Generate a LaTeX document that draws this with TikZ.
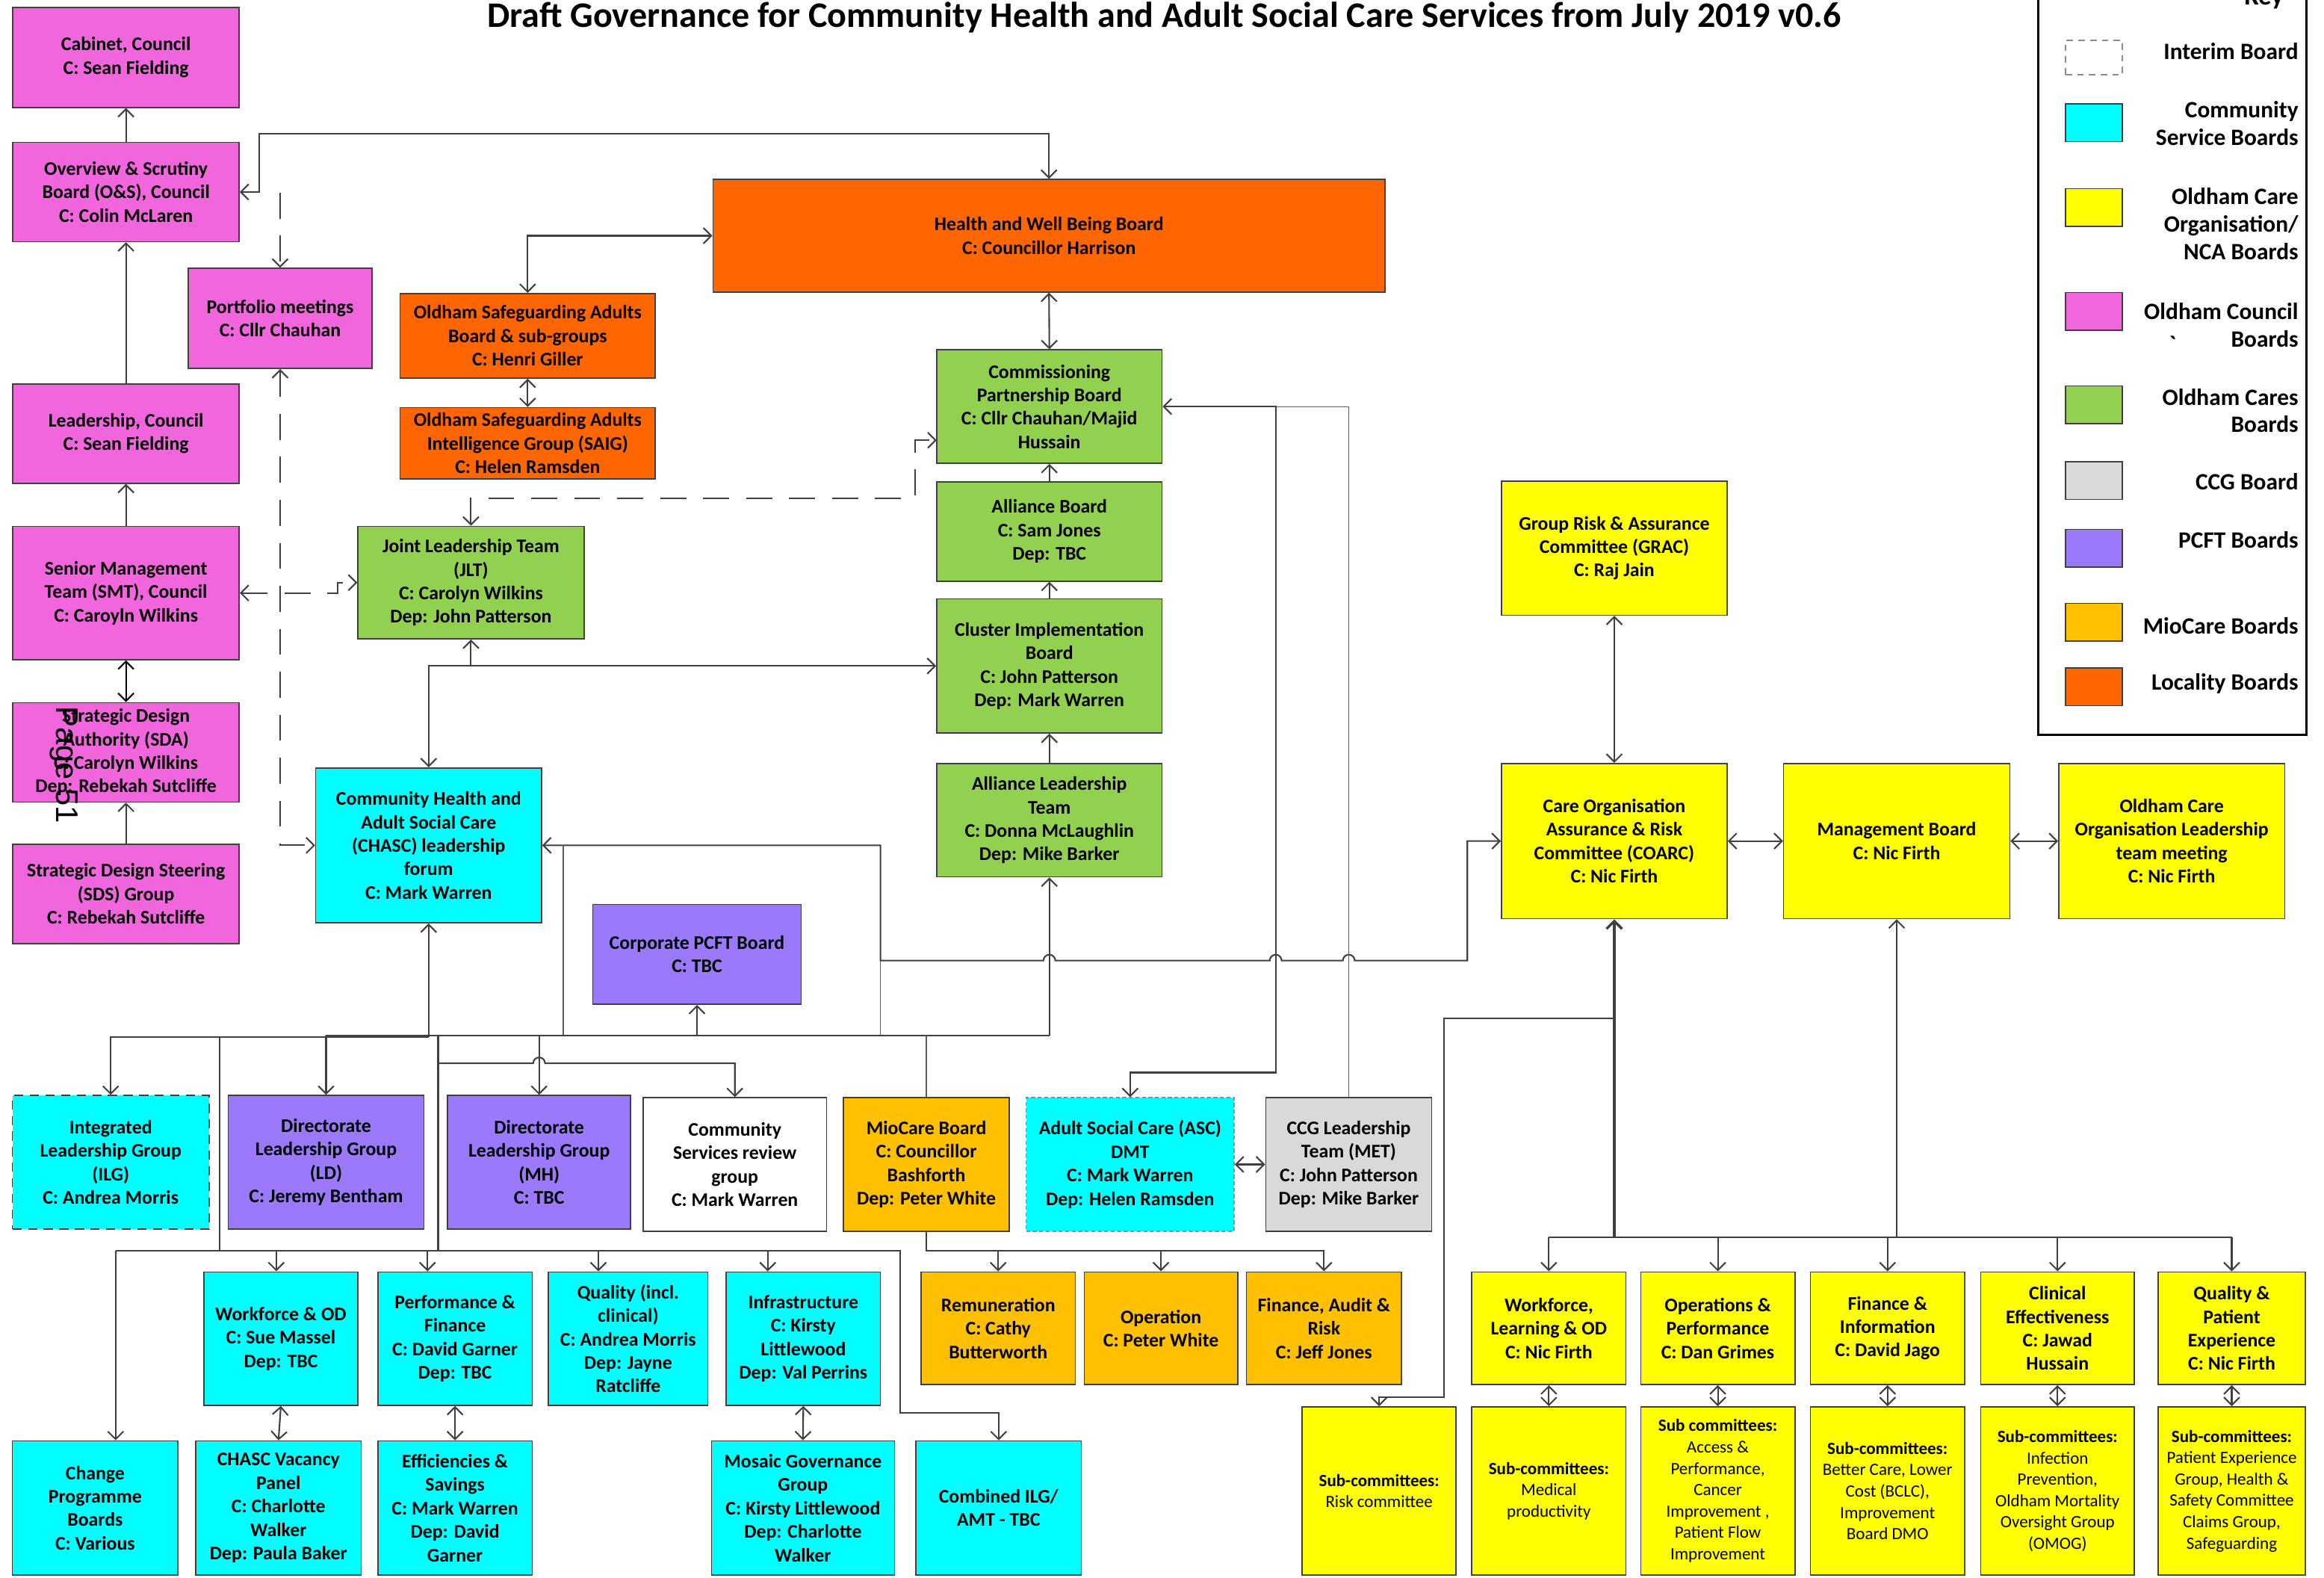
\documentclass[tikz,border=0pt]{standalone}
\usepackage{fontspec}
\setmainfont{Carlito}
\newfontfamily\wmarkfamily{Liberation Sans}
\usepackage{tikz}
\usetikzlibrary{arrows.meta}

\definecolor{councilpink}{RGB}{242,102,221}
\definecolor{localorange}{RGB}{255,102,0}
\definecolor{caresgreen}{RGB}{146,208,80}
\definecolor{commcyan}{RGB}{0,255,255}
\definecolor{ocoyellow}{RGB}{255,255,0}
\definecolor{pcftpurple}{RGB}{154,121,250}
\definecolor{mioamber}{RGB}{255,192,0}
\definecolor{ccggrey}{RGB}{217,217,217}
\definecolor{linegray}{RGB}{64,64,64}

\newcommand\brdfont{\fontsize{7.4}{9}\selectfont\bfseries}
\newcommand\subfont{\fontsize{6.6}{8.2}\selectfont}
\newcommand\keyfont{\fontsize{9}{10.6}\selectfont\bfseries}
\newcommand\ttlfont{\fontsize{13.8}{16}\selectfont\bfseries}

\tikzset{
  board/.style={draw=black!75, line width=0.45pt, align=center, inner sep=1pt, font=\brdfont},
  sz/.style 2 args={minimum width=#1*0.02cm, minimum height=#2*0.02cm},
  councilbox/.style={board, fill=councilpink},
  localbox/.style={board, fill=localorange},
  caresbox/.style={board, fill=caresgreen},
  commbox/.style={board, fill=commcyan},
  pcftbox/.style={board, fill=pcftpurple},
  miobox/.style={board, fill=mioamber},
  ccgbox/.style={board, fill=ccggrey},
  ocobox/.style={board, fill=ocoyellow},
  subbox/.style={ocobox, font=\subfont},
  keysw/.style={draw=black!75, line width=0.45pt, sz={38.4}{25.5}},
  keytext/.style={anchor=east, align=right, font=\keyfont, inner sep=0pt},
  conn/.style={draw=linegray, line width=0.6pt},
  thinconn/.style={draw=linegray!85, line width=0.35pt},
  thickconn/.style={draw=linegray, line width=1pt},
  dashconn/.style={conn, dash pattern=on 10pt off 6.5pt},
  >={Straight Barb[length=3pt,width=6pt]},
}

\begin{document}
\begin{tikzpicture}[x=0.02cm,y=-0.02cm]
\useasboundingbox (0,0) rectangle (1568,1064);

\node[font=\ttlfont, anchor=base] (title) at (785.5,18.5) {Draft Governance for Community Health and Adult Social Care Services from July 2019 v0.6};

% council
\node[councilbox, sz={152.7}{67.5}] (cabinet) at (85,38.7) {Cabinet, Council\\C: Sean Fielding};
\node[councilbox, sz={152.7}{67}] (overview) at (85,129.5) {Overview \& Scrutiny\\Board (O\&S), Council\\C: Colin McLaren};
\node[councilbox, sz={124}{67.5}] (portfolio) at (189,214.8) {Portfolio meetings\\C: Cllr Chauhan};
\node[councilbox, sz={152.7}{67}] (leadership) at (85,292.5) {Leadership, Council\\C: Sean Fielding};
\node[councilbox, sz={152.7}{90}] (smt) at (85,400) {Senior Management\\Team (SMT), Council\\C: Caroyln Wilkins};
\node[councilbox, sz={152.7}{67}] (sda) at (85,507.5) {Strategic Design\\Authority (SDA)\\C: Carolyn Wilkins\\Dep: Rebekah Sutcliffe};
\node[councilbox, sz={152.7}{67}] (sds) at (85,603) {Strategic Design Steering\\(SDS) Group\\C: Rebekah Sutcliffe};

% locality
\node[localbox, sz={172}{57}] (osab) at (356,226.5) {Oldham Safeguarding Adults\\Board \& sub-groups\\C: Henri Giller};
\node[localbox, sz={172}{48}] (osaig) at (356,299) {Oldham Safeguarding Adults\\Intelligence Group (SAIG)\\C: Helen Ramsden};
\node[localbox, sz={453.5}{76}] (hwbb) at (707.75,159) {Health and Well Being Board\\C: Councillor Harrison};

% oldham cares
\node[caresbox, sz={152}{76.5}] (cpb) at (708,274.25) {Commissioning\\Partnership Board\\C: Cllr Chauhan/Majid\\Hussain};
\node[caresbox, sz={152}{67}] (ab) at (708,358.5) {Alliance Board\\C: Sam Jones\\Dep: TBC};
\node[caresbox, sz={152}{90.5}] (cib) at (708,449.25) {Cluster Implementation\\Board\\C: John Patterson\\Dep: Mark Warren};
\node[caresbox, sz={152}{76.5}] (alt) at (708,553.25) {Alliance Leadership\\Team\\C: Donna McLaughlin\\Dep: Mike Barker};
\node[caresbox, sz={152.5}{76}] (jlt) at (317.75,393) {Joint Leadership Team\\(JLT)\\C: Carolyn Wilkins\\Dep: John Patterson};

% community services
\node[commbox, sz={152.4}{104.5}] (chasc) at (289.2,570.25) {Community Health and\\Adult Social Care\\(CHASC) leadership\\forum\\C: Mark Warren};
\node[commbox, sz={132.6}{90}, dash pattern=on 3.5pt off 2.5pt] (ilg) at (74.7,784) {Integrated\\Leadership Group\\(ILG)\\C: Andrea Morris};
\node[commbox, sz={140.3}{90}, draw=black!45, dash pattern=on 1.5pt off 1pt] (asc) at (762.5,785.5) {Adult Social Care (ASC)\\DMT\\C: Mark Warren\\Dep: Helen Ramsden};
\node[commbox, sz={104}{90}] (wod) at (189.5,903) {Workforce \& OD\\C: Sue Massel\\Dep: TBC};
\node[commbox, sz={104}{90}] (pf) at (307,903) {Performance \&\\Finance\\C: David Garner\\Dep: TBC};
\node[commbox, sz={107.7}{90}] (qual) at (423.8,903) {Quality (incl.\\clinical)\\C: Andrea Morris\\Dep: Jayne\\Ratcliffe};
\node[commbox, sz={104}{90}] (infra) at (542,903) {Infrastructure\\C: Kirsty\\Littlewood\\Dep: Val Perrins};
\node[commbox, sz={111.6}{90.5}] (chg) at (64.2,1017.25) {Change\\Programme\\Boards\\C: Various};
\node[commbox, sz={111.7}{90.5}] (cvp) at (187.9,1017.25) {CHASC Vacancy\\Panel\\C: Charlotte\\Walker\\Dep: Paula Baker};
\node[commbox, sz={104}{90.5}] (eff) at (307,1017.25) {Efficiencies \&\\Savings\\C: Mark Warren\\Dep: David\\Garner};
\node[commbox, sz={123.5}{90.5}] (mosaic) at (541.75,1017.25) {Mosaic Governance\\Group\\C: Kirsty Littlewood\\Dep: Charlotte\\Walker};
\node[commbox, sz={111.5}{90.5}] (comb) at (673.75,1017.25) {Combined ILG/\\AMT - TBC};

% pcft
\node[pcftbox, sz={140.5}{67.5}] (pcft) at (470.25,643.75) {Corporate PCFT Board\\C: TBC};
\node[pcftbox, sz={132}{90}] (ld) at (220,784) {Directorate\\Leadership Group\\(LD)\\C: Jeremy Bentham};
\node[pcftbox, sz={123.5}{90}] (mh) at (363.75,784) {Directorate\\Leadership Group\\(MH)\\C: TBC};
\node[board, fill=white, sz={123.6}{90}] (csrg) at (495.8,785.5) {Community\\Services review\\group\\C: Mark Warren};

% miocare and ccg
\node[miobox, sz={112}{90}] (mio) at (625,785.5) {MioCare Board\\C: Councillor\\Bashforth\\Dep: Peter White};
\node[miobox, sz={104}{76}] (rem) at (673.5,896) {Remuneration\\C: Cathy\\Butterworth};
\node[miobox, sz={103.5}{76}] (oper) at (783.3,896) {Operation\\C: Peter White};
\node[miobox, sz={104.6}{76}] (far) at (893.3,896) {Finance, Audit \&\\Risk\\C: Jeff Jones};
\node[ccgbox, sz={112}{90}] (ccg) at (910,785.5) {CCG Leadership\\Team (MET)\\C: John Patterson\\Dep: Mike Barker};

% care organisation
\node[ocobox, sz={152.3}{90.5}] (grac) at (1089.15,369.75) {Group Risk \& Assurance\\Committee (GRAC)\\C: Raj Jain};
\node[ocobox, sz={152.3}{104.7}] (coarc) at (1089.15,567.35) {Care Organisation\\Assurance \& Risk\\Committee (COARC)\\C: Nic Firth};
\node[ocobox, sz={152.6}{104.7}] (mb) at (1279.7,567.35) {Management Board\\C: Nic Firth};
\node[ocobox, sz={152.5}{104.7}] (ocolt) at (1465.25,567.35) {Oldham Care\\Organisation Leadership\\team meeting\\C: Nic Firth};
\node[ocobox, sz={104}{76}] (wlod) at (1045,896) {Workforce,\\Learning \& OD\\C: Nic Firth};
\node[ocobox, sz={104}{76}] (opp) at (1159,896) {Operations \&\\Performance\\C: Dan Grimes};
\node[ocobox, sz={104}{76}] (fi) at (1273.5,896) {Finance \&\\Information\\C: David Jago};
\node[ocobox, sz={103.6}{76}] (ce) at (1388.2,896) {Clinical\\Effectiveness\\C: Jawad\\Hussain};
\node[ocobox, sz={99.5}{76}] (qpe) at (1505.75,896) {Quality \&\\Patient\\Experience\\C: Nic Firth};
\node[subbox, sz={103.8}{113.5}] (subrisk) at (930.5,1005.75) {\textbf{Sub-committees:}\\Risk committee};
\node[subbox, sz={104}{113.5}] (submed) at (1045,1005.75) {\textbf{Sub-committees:}\\Medical\\productivity};
\node[subbox, sz={104}{113.5}] (subacc) at (1159,1005.75) {\textbf{Sub committees:}\\Access \&\\Performance,\\Cancer\\Improvement ,\\Patient Flow\\Improvement};
\node[subbox, sz={104}{113.5}] (subbclc) at (1273.5,1005.75) {\textbf{Sub-committees:}\\Better Care, Lower\\Cost (BCLC),\\Improvement\\Board DMO};
\node[subbox, sz={103.6}{113.5}] (subinf) at (1388.2,1005.75) {\textbf{Sub-committees:}\\Infection\\Prevention,\\Oldham Mortality\\Oversight Group\\(OMOG)};
\node[subbox, sz={99.5}{113.5}] (subpe) at (1505.75,1005.75) {\textbf{Sub-committees:}\\Patient Experience\\Group, Health \&\\Safety Committee\\Claims Group,\\Safeguarding};

\node[rotate=-90, font=\wmarkfamily\fontsize{12}{14}\selectfont, inner sep=0pt] (pagemark) at (43,516) {Page 51};

% key
\draw[black, line width=0.8pt] (1375,-5) rectangle (1556,495.6);
\node[font=\fontsize{10}{12}\selectfont\bfseries, anchor=base] (keytitle) at (1527.5,3.5) {Key};
\node[keysw, draw=black!45, dash pattern=on 2.5pt off 2pt, minimum height=23.2*0.02cm] (swinterim) at (1412.8,38.9) {};
\node[keysw, fill=commcyan] (swcomm) at (1412.8,82.75) {};
\node[keysw, fill=ocoyellow] (swoco) at (1412.8,140) {};
\node[keysw, fill=councilpink] (swcouncil) at (1412.8,210) {};
\node[keysw, fill=caresgreen] (swcares) at (1412.8,273) {};
\node[keysw, fill=ccggrey] (swccg) at (1412.8,324.25) {};
\node[keysw, fill=pcftpurple] (swpcft) at (1412.8,369.75) {};
\node[keysw, fill=mioamber] (swmio) at (1412.8,419.8) {};
\node[keysw, fill=localorange] (swlocal) at (1412.8,463.3) {};
\node[keytext] (kinterim) at (1551,34.4) {Interim Board};
\node[keytext] (kcomm) at (1551,83.3) {Community\\Service Boards};
\node[keytext] (koco) at (1551,151) {Oldham Care\\Organisation/\\NCA Boards};
\node[keytext] (kcouncil) at (1551,219.2) {Oldham Council\\Boards};
\node[font=\keyfont, inner sep=0pt] (ktick) at (1466,232) {\textasciigrave};
\node[keytext] (kcares) at (1551,277) {Oldham Cares\\Boards};
\node[keytext] (kccg) at (1551,325) {CCG Board};
\node[keytext] (kpcft) at (1551,364) {PCFT Boards};
\node[keytext] (kmio) at (1551,422) {MioCare Boards};
\node[keytext] (klocal) at (1551,461) {Locality Boards};

% council chain
\draw[conn,->] (overview.north) -- (cabinet.south);
\draw[conn,->] (leadership.north) -- (overview.south);
\draw[conn,->] (smt.north) -- (leadership.south);
\draw[conn,<->,draw=black] (smt.south) -- (sda.north);
\draw[conn,->] (sds.north) -- (sda.south);
\draw[conn,<->] (overview.east) -| (175,90) -| (hwbb.north);
\coordinate (pftop) at (189,130);
\draw[dashconn,->] (pftop) -- (portfolio.north);
\draw[dashconn,<->] (portfolio.south) |- (chasc.west);
\draw[dashconn,<->] (smt.east) -- (228,400) -- (228,393) -- (jlt.west);
\draw[dashconn,<->] (jlt.north) -- (317.75,336) -- (617.5,336) -- (617.5,297) -- (632,297);

% locality and cares
\draw[conn,<->] (hwbb.west) -| (osab.north);
\draw[conn,<->] (osab.south) -- (osaig.north);
\draw[conn,<->] (hwbb.south) -- (cpb.north);
\draw[conn,->] (ab.north) -- (cpb.south);
\draw[conn,->] (cib.north) -- (ab.south);
\draw[conn,->] (alt.north) -- (cib.south);
\draw[conn,->] (317.75,449.25) -- (jlt.south);
\draw[conn,<->] (chasc.north) |- (cib.west);

% chasc to coarc
\draw[conn,<->] (chasc.east) -| (594,648) -- (704,648) arc[start angle=180,end angle=360,radius=4] -- (856.7,648) arc[start angle=180,end angle=360,radius=4] -- (906,648) arc[start angle=180,end angle=360,radius=4] -- (990,648) |- (coarc.west);
\draw[thinconn] (380,570.25) -- (380,698.6);
\draw[thinconn] (594,648) -- (594,698.6) -- (625,698.6) -- (mio.north);

% upper bus
\draw[conn,<-] (chasc.south) -- (289.2,699.6);
\draw[conn,->] (289.2,699.6) -| (ilg.north);
\draw[conn] (220,698.6) -- (708,698.6);
\draw[conn,->] (220,698.6) -- (ld.north);
\draw[conn,->] (363.75,698.6) -- (mh.north);
\draw[conn,->] (470.25,698.6) -- (pcft.south);
\draw[conn,->] (708,698.6) -- (alt.south);
\draw[thickconn] (295.5,698.6) -- (295.5,843.5);
\draw[conn] (148,699.6) -- (148,843.5);
\draw[conn,->] (295.5,717.3) -- (359.75,717.3) arc[start angle=180,end angle=360,radius=4] -| (csrg.north);

% lower bus
\draw[conn,->] (78,843.5) -- (607.4,843.5) -- (607.4,953) -| (comb.north);
\draw[conn,->] (78,843.5) -- (78,843.5 |- chg.north);
\draw[conn,->] (186.4,843.5) -- (186.4,843.5 |- wod.north);
\draw[conn,->] (288.4,843.5) -- (288.4,843.5 |- pf.north);
\draw[conn,->] (403.7,843.5) -- (403.7,843.5 |- qual.north);
\draw[conn,->] (518,843.5) -- (518,843.5 |- infra.north);
\draw[conn,<->] (wod.south) -- (cvp.north);
\draw[conn,<->] (pf.south) -- (eff.north);
\draw[conn,<->] (infra.south) -- (mosaic.north);

% miocare
\draw[conn,->] (mio.south) -- (625,843.5) -| (rem.north);
\draw[conn,->] (625,843.5) -| (oper.north);
\draw[conn,->] (625,843.5) -| (far.north);

% asc and ccg
\draw[conn,<->] (cpb.east) -| (860.7,723.5) -| (asc.north);
\draw[thinconn] (860.7,274.25) -| (ccg.north);
\draw[conn,<->] (asc.east) -- (ccg.west);

% care organisation
\draw[conn,<->] (grac.south) -- (coarc.north);
\draw[conn,<->] (coarc.east) -- (mb.west);
\draw[conn,<->] (mb.east) -- (ocolt.west);
\draw[thickconn,<-] (coarc.south) -- (1089.15,834.7);
\draw[conn,->] (1089.15,686.8) -| (974.3,942.3) -| (subrisk.north);
\draw[conn,<-] (mb.south) -- (1279.7,834.7);
\draw[conn] (1045,834.7) -- (1505.75,834.7);
\foreach \n in {wlod,opp,fi,ce,qpe}
  \draw[conn,->] (\n.north |- 0,834.7) -- (\n.north);
\foreach \a/\b in {wlod/submed,opp/subacc,fi/subbclc,ce/subinf,qpe/subpe}
  \draw[conn,<->] (\a.south) -- (\b.north);
\end{tikzpicture}
\end{document}
